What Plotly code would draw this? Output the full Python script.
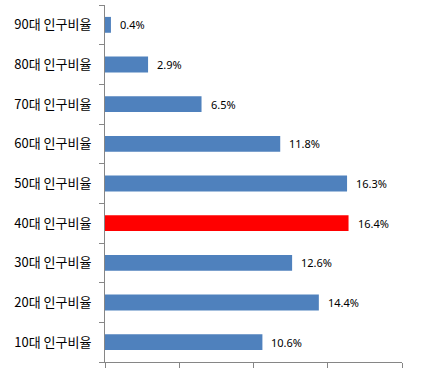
import plotly.graph_objects as go

categories = ["10대 인구비율", "20대 인구비율", "30대 인구비율", "40대 인구비율", "50대 인구비율",
              "60대 인구비율", "70대 인구비율", "80대 인구비율", "90대 인구비율"]
values = [10.6, 14.4, 12.6, 16.4, 16.3, 11.8, 6.5, 2.9, 0.4]
highlight = "40대 인구비율"

colors = ["#FF0000" if c == highlight else "#4F81BD" for c in categories]

fig = go.Figure(go.Bar(
    y=categories, x=values, orientation="h",
    marker=dict(color=colors, line=dict(width=0)),
    width=0.4,
))

for c, v in zip(categories, values):
    fig.add_annotation(x=v, y=c, text=f"{v:.1f}%", showarrow=False,
                       xanchor="left", xshift=7, yshift=0,
                       font=dict(family="Noto Sans", size=11, color="#000000"))

fig.update_layout(
    width=432, height=375,
    margin=dict(l=105, r=30, t=5, b=13),
    paper_bgcolor="white", plot_bgcolor="white",
    showlegend=False,
    xaxis=dict(range=[0, 20], dtick=5, tick0=0, showticklabels=False, showgrid=False,
               zeroline=False, showline=True, linecolor="#868686", linewidth=1,
               ticks="outside", ticklen=5, tickcolor="#868686", fixedrange=True),
    yaxis=dict(type="category", categoryorder="array", categoryarray=categories,
               showgrid=False, zeroline=False, showline=True, linecolor="#868686",
               linewidth=1, ticks="outside", ticklen=5, tickcolor="#868686",
               tickson="boundaries", ticklabelstandoff=10,
               tickfont=dict(family="Noto Sans CJK KR", size=13, color="#000000")),
)

fig.write_html("out.html")
